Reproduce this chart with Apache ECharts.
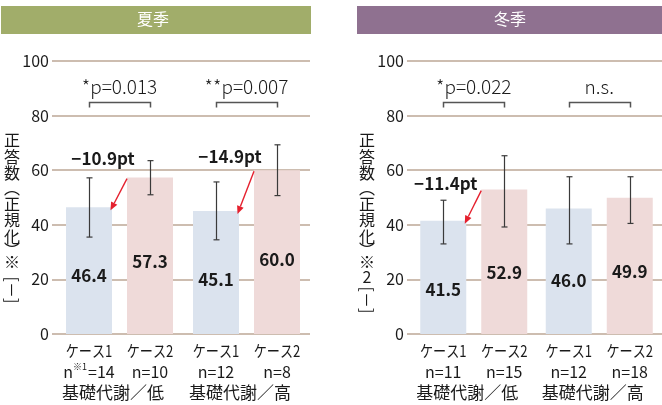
<!DOCTYPE html>
<html>
<head>
<meta charset="utf-8">
<script src="https://cdn.jsdelivr.net/npm/echarts@6/dist/echarts.min.js"></script>
<style>
  html, body { margin: 0; padding: 0; background: #fff; }
  #chart { width: 662px; height: 405px; }
</style>
</head>
<body>
<div id="chart"></div>
<script>
// ---- data ----
const groups = ['基礎代謝／低', '基礎代謝／高'];
const caseNames = ['ケース1', 'ケース2'];
const yTicks = [0, 20, 40, 60, 80, 100];

// summer
const summerCase1 = [46.4, 45.1];
const summerCase2 = [57.3, 60.0];
const summerCase1Low = [35.5, 34.5];
const summerCase1High = [57.2, 55.7];
const summerCase2Low = [51.0, 50.7];
const summerCase2High = [63.5, 69.3];
const summerN1 = [14, 12];
const summerN2 = [10, 8];
const summerP = ['*p=0.013', '**p=0.007'];
const summerDiff = ['−10.9pt', '−14.9pt'];

// winter
const winterCase1 = [41.5, 46.0];
const winterCase2 = [52.9, 49.9];
const winterCase1Low = [33.0, 33.0];
const winterCase1High = [49.0, 57.6];
const winterCase2Low = [39.2, 40.5];
const winterCase2High = [65.3, 57.6];
const winterN1 = [11, 12];
const winterN2 = [15, 18];
const winterP = ['*p=0.022', 'n.s.'];
const winterDiff = ['−11.4pt', null];

// ---- layout / style ----
const FONT = '"Noto Sans CJK JP", "Noto Sans", sans-serif';
const BAR_W = 46;
const BAR_GAP = 15;
const SHIFT = (BAR_W + BAR_GAP) / 2;
const GRID_LINE = '#bca796';
const BLUE = '#dbe3ee';
const PINK = '#efdad9';
const RED = '#e5202e';
const INK = '#1a1a1a';

// where the difference labels sit: [value-axis height, x offset from case1 centre]
const summerDiffPos = [[64.1, 14], [64.9, 14]];
const winterDiffPos = [[55.2, 2.5], null];
// small vertical nudges of the value labels inside the bars
const summerLabelNudge = [[5, 7], [6, 7]];
const winterLabelNudge = [[12, 9], [11, 6]];

const BRACKET_Y = 85;
const P_TEXT_Y = 90.6;

function barData(values, nudges, side) {
  return values.map((v, i) => ({
    value: v,
    label: { offset: [0, nudges[side][i]] }
  }));
}

function errorData(lo1, hi1, lo2, hi2) {
  const out = [];
  for (let i = 0; i < groups.length; i++) {
    out.push([i, lo1[i], hi1[i], -1]);
    out.push([i, lo2[i], hi2[i], 1]);
  }
  return out;
}

function renderError(params, api) {
  const cat = api.value(0);
  const side = api.value(3);
  const x = Math.round(api.coord([cat, 0])[0] + side * SHIFT) + 0.5;
  const yLo = api.coord([cat, api.value(1)])[1];
  const yHi = api.coord([cat, api.value(2)])[1];
  const st = { stroke: '#3a3a3a', lineWidth: 1.2 };
  return {
    type: 'group',
    children: [
      { type: 'line', shape: { x1: x, y1: yLo, x2: x, y2: yHi }, style: st },
      { type: 'line', shape: { x1: x - 3, y1: yHi, x2: x + 3, y2: yHi }, style: st },
      { type: 'line', shape: { x1: x - 3, y1: yLo, x2: x + 3, y2: yLo }, style: st }
    ]
  };
}

function makeBracketRenderer(pTexts) {
  return function (params, api) {
    const cat = api.value(0);
    const cx = api.coord([cat, 0])[0];
    const y = Math.round(api.coord([cat, BRACKET_Y])[1]) + 0.5;
    const yt = api.coord([cat, P_TEXT_Y])[1];
    const x0 = Math.round(cx - SHIFT) + 0.5;
    const x1 = Math.round(cx + SHIFT) + 0.5;
    return {
      type: 'group',
      children: [
        {
          type: 'polyline',
          shape: { points: [[x0, y + 5], [x0, y], [x1, y], [x1, y + 5]] },
          style: { stroke: '#555', lineWidth: 1.5, fill: null }
        },
        {
          type: 'text',
          style: {
            x: cx, y: yt, text: pTexts[cat],
            font: '300 19px ' + FONT, fill: INK,
            align: 'center', verticalAlign: 'middle'
          }
        }
      ]
    };
  };
}

function makeArrowRenderer(c1, c2, diffs, diffPos) {
  return function (params, api) {
    const cat = api.value(0);
    if (!diffs[cat]) return null;
    const cx = api.coord([cat, 0])[0];
    const sx = cx + SHIFT - BAR_W / 2;
    const sy = api.coord([cat, c2[cat]])[1] + 1;
    const ex = cx - SHIFT + BAR_W / 2 - 1.5;
    const ey = api.coord([cat, c1[cat]])[1] + 3;
    const ang = Math.atan2(ey - sy, ex - sx);
    const L = 8, W = 3.5;
    const bx = ex - L * Math.cos(ang), by = ey - L * Math.sin(ang);
    const px = -Math.sin(ang) * W, py = Math.cos(ang) * W;
    const pos = diffPos[cat];
    return {
      type: 'group',
      children: [
        { type: 'line', shape: { x1: sx, y1: sy, x2: bx, y2: by }, style: { stroke: RED, lineWidth: 1.4 } },
        { type: 'polygon', shape: { points: [[ex, ey], [bx + px, by + py], [bx - px, by - py]] }, style: { fill: RED } },
        {
          type: 'text',
          style: {
            x: cx - SHIFT + pos[1], y: api.coord([cat, pos[0]])[1],
            text: diffs[cat], font: 'bold 17px ' + FONT, fill: INK,
            align: 'center', verticalAlign: 'middle'
          }
        }
      ]
    };
  };
}

function caseLabelData(n1, n2) {
  const out = [];
  for (let i = 0; i < groups.length; i++) {
    out.push([i, -1, n1[i]]);
    out.push([i, 1, n2[i]]);
  }
  return out;
}

function makeCaseLabelRenderer(markFirst) {
  return function (params, api) {
    const cat = api.value(0);
    const side = api.value(1);
    const n = api.value(2);
    const x = api.coord([cat, 0])[0] + side * SHIFT;
    const y0 = api.coord([cat, 0])[1];
    const name = caseNames[side < 0 ? 0 : 1];
    const sup = markFirst && params.dataIndex === 0;
    const second = '{a|n}' + (sup ? '{s|※1}' : '') + '{a|=' + n + '}';
    return {
      type: 'group',
      children: [
        {
          type: 'text', x: x, y: y0 + 9, scaleX: 0.82,
          style: { x: 0, y: 0, text: name, font: '16px ' + FONT, fill: INK, align: 'center', verticalAlign: 'top' }
        },
        {
          type: 'text', x: x, y: y0 + 28,
          style: {
            x: 0, y: 0, text: second, align: 'center', verticalAlign: 'top',
            rich: {
              a: { font: '16px ' + FONT, fill: INK, lineHeight: 19 },
              s: { font: '9px ' + FONT, fill: INK, lineHeight: 19, verticalAlign: 'top', padding: [0, 1, 8, 0] }
            }
          }
        }
      ]
    };
  };
}

function panel(idx, c1, c2, l1, h1, l2, h2, n1, n2, pTexts, diffs, diffPos, nudges, markFirst) {
  const ax = { xAxisIndex: idx, yAxisIndex: idx };
  const valueLabel = {
    show: true, position: 'inside', formatter: p => p.value.toFixed(1),
    fontFamily: FONT, fontWeight: 'bold', fontSize: 17, color: INK
  };
  return [
    Object.assign({
      type: 'bar', name: caseNames[0], data: barData(c1, nudges, 0),
      barWidth: BAR_W, barGap: (BAR_GAP / BAR_W * 100).toFixed(2) + '%',
      itemStyle: { color: BLUE }, silent: true, label: valueLabel
    }, ax),
    Object.assign({
      type: 'bar', name: caseNames[1], data: barData(c2, nudges, 1),
      barWidth: BAR_W, itemStyle: { color: PINK }, silent: true, label: valueLabel
    }, ax),
    Object.assign({ type: 'custom', data: errorData(l1, h1, l2, h2), renderItem: renderError, z: 5, silent: true }, ax),
    Object.assign({ type: 'custom', data: groups.map((g, i) => [i]), renderItem: makeBracketRenderer(pTexts), z: 5, silent: true }, ax),
    Object.assign({ type: 'custom', data: groups.map((g, i) => [i]), renderItem: makeArrowRenderer(c1, c2, diffs, diffPos), z: 6, silent: true }, ax),
    Object.assign({ type: 'custom', data: caseLabelData(n1, n2), renderItem: makeCaseLabelRenderer(markFirst), z: 5, silent: true }, ax)
  ];
}

function xAxis(gridIndex) {
  return {
    type: 'category', gridIndex: gridIndex, data: groups,
    axisLine: { show: false }, axisTick: { show: false },
    axisLabel: { interval: 0, margin: 50, fontFamily: FONT, fontSize: 17, color: INK, padding: [0, 13, 0, 0] }
  };
}

function yAxis(gridIndex) {
  return {
    type: 'value', gridIndex: gridIndex, min: yTicks[0], max: yTicks[yTicks.length - 1], interval: yTicks[1] - yTicks[0],
    axisLine: { show: false },
    axisTick: { show: true, length: 4, lineStyle: { color: GRID_LINE, width: 1.5 } },
    axisLabel: { margin: 7, fontFamily: FONT, fontSize: 16, color: INK },
    splitLine: { lineStyle: { color: GRID_LINE, width: 1.5 } }
  };
}

// vertical axis title; each token carries its own line height so the
// parentheses and the reference mark sit tight
function verticalTitle(x, tokens) {
  const base = { font: '16px ' + FONT, fill: INK, align: 'center' };
  return {
    type: 'text', left: x, top: 132,
    style: {
      text: tokens.map(t => '{' + t[1] + '|' + t[0] + '}').join('\n'),
      align: 'center',
      rich: {
        c: Object.assign({ lineHeight: 16.5 }, base),
        o: Object.assign({ lineHeight: 14 }, base),
        e: Object.assign({ lineHeight: 10 }, base),
        k: Object.assign({ lineHeight: 14 }, base),
        g: Object.assign({ lineHeight: 17 }, base)
      }
    }
  };
}

// the unit, turned to read top-to-bottom
function verticalUnit(x, y) {
  return {
    type: 'text', x: x, y: y, rotation: -Math.PI / 2,
    style: { x: 0, y: 0, text: '[－]', font: '16px ' + FONT, fill: INK, align: 'center', verticalAlign: 'middle' }
  };
}

const titleHead = [['正', 'c'], ['答', 'c'], ['数', 'c'], ['︵', 'o'], ['正', 'c'], ['規', 'c'], ['化', 'c'], ['︶', 'e'], ['※', 'k']];

const chart = echarts.init(document.getElementById('chart'));
chart.setOption({
  animation: false,
  backgroundColor: '#fff',
  grid: [
    { left: 56, top: 61, width: 254, height: 273 },
    { left: 411, top: 61, width: 254, height: 273 }
  ],
  xAxis: [xAxis(0), xAxis(1)],
  yAxis: [yAxis(0), yAxis(1)],
  series: [].concat(
    panel(0, summerCase1, summerCase2, summerCase1Low, summerCase1High, summerCase2Low, summerCase2High,
      summerN1, summerN2, summerP, summerDiff, summerDiffPos, summerLabelNudge, true),
    panel(1, winterCase1, winterCase2, winterCase1Low, winterCase1High, winterCase2Low, winterCase2High,
      winterN1, winterN2, winterP, winterDiff, winterDiffPos, winterLabelNudge, false)
  ),
  graphic: [
    { type: 'rect', left: 1, top: 6, shape: { width: 310, height: 28 }, style: { fill: '#a1ad6a' } },
    { type: 'text', left: 137, top: 11, style: { text: '夏季', font: '16px ' + FONT, fill: '#fff' } },
    { type: 'rect', left: 357, top: 6, shape: { width: 305, height: 28 }, style: { fill: '#8f7190' } },
    { type: 'text', left: 494, top: 11, style: { text: '冬季', font: '16px ' + FONT, fill: '#fff' } },
    verticalTitle(4, titleHead),
    verticalTitle(359, titleHead.concat([['2', 'g']])),
    verticalUnit(12.5, 290),
    verticalUnit(367.5, 300)
  ]
});
</script>
</body>
</html>
